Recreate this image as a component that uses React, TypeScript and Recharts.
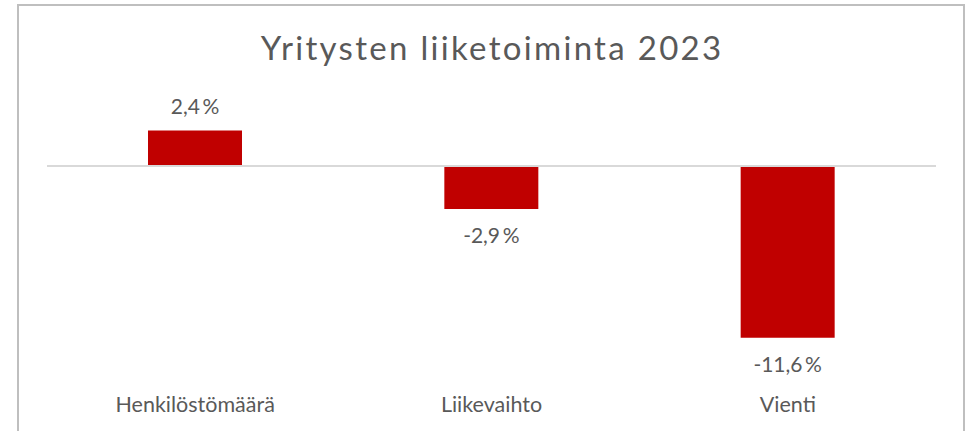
import React from "react";
import { BarChart, Bar, XAxis, YAxis, ReferenceLine, LabelList } from "recharts";

const categories = ["Henkilöstömäärä", "Liikevaihto", "Vienti"];
const changes = [2.4, -2.9, -11.6];

const data = categories.map((name, i) => ({ name, value: changes[i] }));

const FONT = "Lato, 'Open Sans', sans-serif";
const GREY = "#595959";

const fmt = (v: number) => `${v.toFixed(1).replace(".", ",")}\u2009%`;

function ValueLabel(props: any) {
  const { x, y, width, height, value } = props;
  const top = Math.min(y, y + height);
  const bottom = Math.max(y, y + height);
  const cx = x + width / 2;
  const ty = value >= 0 ? top - 16.5 : bottom + 34;
  return (
    <text x={cx} y={ty} textAnchor="middle" fill={GREY} fontSize={21} fontFamily={FONT}>
      {fmt(value)}
    </text>
  );
}

export default function App() {
  return (
    <div
      style={{
        position: "absolute",
        left: 0,
        top: 0,
        width: 966,
        height: 431,
        overflow: "hidden",
        background: "#fff",
      }}
    >
      <div
        style={{
          position: "absolute",
          left: 17,
          top: 4,
          width: 948,
          height: 500,
          border: "2px solid #bfbfbf",
          boxSizing: "border-box",
        }}
      />
      <div
        style={{
          position: "absolute",
          left: 17,
          width: 948,
          paddingLeft: 2.3,
          boxSizing: "border-box",
          top: 27,
          textAlign: "center",
          fontFamily: FONT,
          fontSize: 33,
          letterSpacing: 2.3,
          color: GREY,
          lineHeight: "40px",
        }}
      >
        Yritysten liiketoiminta 2023
      </div>
      <div style={{ position: "absolute", left: 0, top: 0 }}>
        <BarChart
          width={966}
          height={431}
          data={data}
          margin={{ top: 106.8, right: 30, bottom: 17.8, left: 47 }}
          barSize={94}
        >
          <XAxis
            dataKey="name"
            height={40}
            axisLine={false}
            tickLine={false}
            tickSize={0}
            tickMargin={24}
            interval={0}
            tick={{ fill: GREY, fontSize: 21.5, fontFamily: FONT }}
          />
          <YAxis hide domain={[-14, 4]} />
          <ReferenceLine y={0} stroke="#d9d9d9" strokeWidth={2} />
          <Bar dataKey="value" fill="#c00000" isAnimationActive={false}>
            <LabelList dataKey="value" content={<ValueLabel />} />
          </Bar>
        </BarChart>
      </div>
    </div>
  );
}
